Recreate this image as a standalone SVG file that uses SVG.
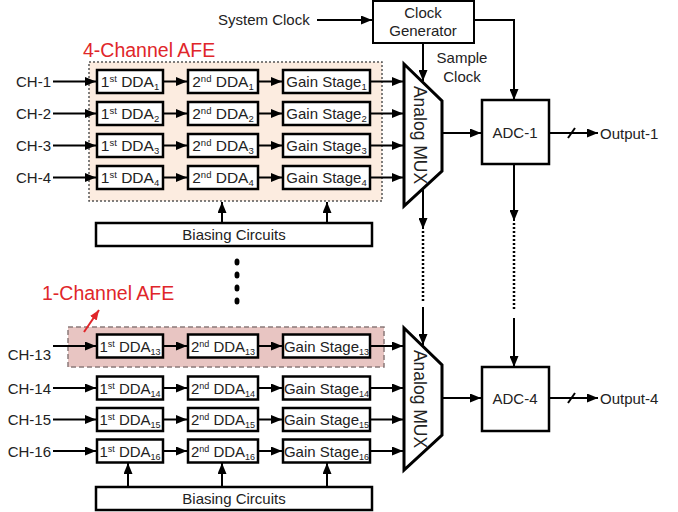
<svg xmlns="http://www.w3.org/2000/svg" width="678" height="512" viewBox="0 0 678 512">
<defs>
<style>
.box{fill:#fff;stroke:#000;stroke-width:2.5}
.bx2{fill:#fff;stroke:#000;stroke-width:2}
text{font-family:"Liberation Sans",Arial,sans-serif;font-size:15px;fill:#222}
.c{text-anchor:middle}
.e{text-anchor:end}
.d{font-size:15.5px}
.red{fill:#e0262a;font-size:19.5px}
.ln{fill:none;stroke:#000;stroke-width:2}
.ar{fill:none;stroke:#000;stroke-width:2;marker-end:url(#ah)}
.dot{fill:none;stroke:#000;stroke-width:2.5;stroke-dasharray:2 2}
.mux{fill:#fff;stroke:#000;stroke-width:3;stroke-linejoin:miter}
</style>
<marker id="ah" markerUnits="userSpaceOnUse" markerWidth="11" markerHeight="9" refX="11" refY="4.5" orient="auto"><path d="M0,0 L11,4.5 L0,9 z" fill="#000"/></marker>
<marker id="ahr" markerUnits="userSpaceOnUse" markerWidth="10" markerHeight="8" refX="10" refY="4" orient="auto"><path d="M0,0 L10,4 L0,8 z" fill="#e0262a"/></marker>
</defs>
<rect width="678" height="512" fill="#fff"/>

<g id="afe4">
<rect x="89" y="62" width="293" height="139" fill="#fcece0" stroke="#555" stroke-width="1.5" stroke-dasharray="2 2"/>
<text class="red" x="83" y="57">4-Channel AFE</text>
</g>
<g id="afe1">
<rect x="68" y="327" width="316" height="40" fill="#e8c5c2" stroke="#8a7a7a" stroke-width="1.5" stroke-dasharray="5 3"/>
<text class="red" x="42" y="300">1-Channel AFE</text>
</g>

<g id="connectors">
<line class="ar" x1="317" y1="20" x2="372" y2="20"/>
<path class="ar" d="M474,20 H514 V100"/>
<line class="ar" x1="423" y1="43" x2="423" y2="81"/>
<line class="ar" x1="53" y1="81.5" x2="96" y2="81.5"/><line class="ar" x1="163" y1="81.5" x2="187" y2="81.5"/><line class="ar" x1="258" y1="81.5" x2="282" y2="81.5"/><line class="ar" x1="370" y1="81.5" x2="403" y2="81.5"/>
<line class="ar" x1="53" y1="113.5" x2="96" y2="113.5"/><line class="ar" x1="163" y1="113.5" x2="187" y2="113.5"/><line class="ar" x1="258" y1="113.5" x2="282" y2="113.5"/><line class="ar" x1="370" y1="113.5" x2="403" y2="113.5"/>
<line class="ar" x1="53" y1="145.5" x2="96" y2="145.5"/><line class="ar" x1="163" y1="145.5" x2="187" y2="145.5"/><line class="ar" x1="258" y1="145.5" x2="282" y2="145.5"/><line class="ar" x1="370" y1="145.5" x2="403" y2="145.5"/>
<line class="ar" x1="53" y1="177.5" x2="96" y2="177.5"/><line class="ar" x1="163" y1="177.5" x2="187" y2="177.5"/><line class="ar" x1="258" y1="177.5" x2="282" y2="177.5"/><line class="ar" x1="370" y1="177.5" x2="403" y2="177.5"/>
<line class="ar" x1="53" y1="346" x2="96" y2="346"/><line class="ar" x1="163" y1="346" x2="187" y2="346"/><line class="ar" x1="258" y1="346" x2="282" y2="346"/><line class="ar" x1="370" y1="346" x2="403" y2="346"/>
<line class="ar" x1="53" y1="388" x2="96" y2="388"/><line class="ar" x1="163" y1="388" x2="187" y2="388"/><line class="ar" x1="258" y1="388" x2="282" y2="388"/><line class="ar" x1="370" y1="388" x2="403" y2="388"/>
<line class="ar" x1="53" y1="419.5" x2="96" y2="419.5"/><line class="ar" x1="163" y1="419.5" x2="187" y2="419.5"/><line class="ar" x1="258" y1="419.5" x2="282" y2="419.5"/><line class="ar" x1="370" y1="419.5" x2="403" y2="419.5"/>
<line class="ar" x1="53" y1="451" x2="96" y2="451"/><line class="ar" x1="163" y1="451" x2="187" y2="451"/><line class="ar" x1="258" y1="451" x2="282" y2="451"/><line class="ar" x1="370" y1="451" x2="403" y2="451"/>
<line class="ar" x1="222" y1="223" x2="222" y2="202"/><line class="ar" x1="327" y1="223" x2="327" y2="202"/>
<line class="ar" x1="128" y1="487" x2="128" y2="463"/><line class="ar" x1="222" y1="487" x2="222" y2="463"/><line class="ar" x1="327" y1="487" x2="327" y2="463"/>
<line class="ar" x1="442" y1="133" x2="481" y2="133"/>
<line class="ar" x1="442" y1="398" x2="481" y2="398"/>
<line class="ar" x1="549" y1="133" x2="598" y2="133"/><line class="ln" x1="568" y1="138" x2="575" y2="128"/>
<line class="ar" x1="549" y1="398" x2="598" y2="398"/><line class="ln" x1="568" y1="403" x2="575" y2="393"/>
<line class="ar" x1="423" y1="188" x2="423" y2="229"/>
<line class="dot" x1="423" y1="231" x2="423" y2="301"/>
<line class="ar" x1="423" y1="307" x2="423" y2="345"/>
<line class="ar" x1="514" y1="164" x2="514" y2="221"/>
<line class="dot" x1="514" y1="223" x2="514" y2="311"/>
<line class="ar" x1="514" y1="318" x2="514" y2="367"/>
<line x1="84" y1="332" x2="99" y2="310" stroke="#e0262a" stroke-width="2" marker-end="url(#ahr)"/>
</g>

<g id="vdots" fill="#000">
<ellipse cx="237" cy="262" rx="2.5" ry="3.5"/><ellipse cx="237" cy="275" rx="2.5" ry="3.5"/><ellipse cx="237" cy="288" rx="2.5" ry="3.5"/><ellipse cx="237" cy="301" rx="2.5" ry="3.5"/>
</g>

<text x="218" y="25">System Clock</text>
<text class="c" x="462" y="63">Sample</text>
<text class="c" x="462" y="82">Clock</text>
<text class="e" x="51" y="87">CH-1</text>
<text class="e" x="51" y="119">CH-2</text>
<text class="e" x="51" y="151">CH-3</text>
<text class="e" x="51" y="183">CH-4</text>
<text class="e" x="51" y="360">CH-13</text>
<text class="e" x="51" y="393.5">CH-14</text>
<text class="e" x="51" y="425">CH-15</text>
<text class="e" x="51" y="456.5">CH-16</text>
<text x="600" y="138.5">Output-1</text>
<text x="600" y="403.5">Output-4</text>

<g id="clockgen"><rect class="bx2" x="373" y="1" width="101" height="42"/><text class="c" x="423" y="18">Clock</text><text class="c" x="423" y="36">Generator</text></g>

<g id="mux1"><polygon class="mux" points="404,64 442,101 442,171 404,206"/><text class="c" transform="translate(420,135) rotate(90)" dy="6" style="font-size:17.5px">Analog MUX</text></g>
<g id="mux2"><polygon class="mux" points="404,328 442,365 442,435 404,470"/><text class="c" transform="translate(420,399) rotate(90)" dy="6" style="font-size:17.5px">Analog MUX</text></g>

<g id="adc1"><rect class="box" x="482" y="100" width="67" height="64"/><text class="c" x="515" y="138">ADC-1</text></g>
<g id="adc4"><rect class="box" x="482" y="367" width="67" height="64"/><text class="c" x="515" y="404">ADC-4</text></g>

<g id="bias1"><rect class="box" x="96" y="223" width="276" height="23"/><text class="c" x="234" y="239.5">Biasing Circuits</text></g>
<g id="bias2"><rect class="box" x="96" y="487" width="276" height="23"/><text class="c" x="234" y="503.5">Biasing Circuits</text></g>

<g id="dda1-1"><rect class="box" x="97" y="70" width="66" height="23"/><text class="c d" x="130" y="87">1<tspan font-size="9.5" dy="-5">st</tspan><tspan dy="5"> DDA</tspan><tspan font-size="9.5" dy="3">1</tspan></text></g>
<g id="dda2-1"><rect class="box" x="188" y="70" width="70" height="23"/><text class="c d" x="223" y="87">2<tspan font-size="9.5" dy="-5">nd</tspan><tspan dy="5"> DDA</tspan><tspan font-size="9.5" dy="3">1</tspan></text></g>
<g id="gain-1"><rect class="box" x="283" y="70" width="87" height="23"/><text class="c" x="326.5" y="87">Gain Stage<tspan font-size="9.5" dy="3">1</tspan></text></g>
<g id="dda1-2"><rect class="box" x="97" y="102" width="66" height="23"/><text class="c d" x="130" y="119">1<tspan font-size="9.5" dy="-5">st</tspan><tspan dy="5"> DDA</tspan><tspan font-size="9.5" dy="3">2</tspan></text></g>
<g id="dda2-2"><rect class="box" x="188" y="102" width="70" height="23"/><text class="c d" x="223" y="119">2<tspan font-size="9.5" dy="-5">nd</tspan><tspan dy="5"> DDA</tspan><tspan font-size="9.5" dy="3">2</tspan></text></g>
<g id="gain-2"><rect class="box" x="283" y="102" width="87" height="23"/><text class="c" x="326.5" y="119">Gain Stage<tspan font-size="9.5" dy="3">2</tspan></text></g>
<g id="dda1-3"><rect class="box" x="97" y="134" width="66" height="23"/><text class="c d" x="130" y="151">1<tspan font-size="9.5" dy="-5">st</tspan><tspan dy="5"> DDA</tspan><tspan font-size="9.5" dy="3">3</tspan></text></g>
<g id="dda2-3"><rect class="box" x="188" y="134" width="70" height="23"/><text class="c d" x="223" y="151">2<tspan font-size="9.5" dy="-5">nd</tspan><tspan dy="5"> DDA</tspan><tspan font-size="9.5" dy="3">3</tspan></text></g>
<g id="gain-3"><rect class="box" x="283" y="134" width="87" height="23"/><text class="c" x="326.5" y="151">Gain Stage<tspan font-size="9.5" dy="3">3</tspan></text></g>
<g id="dda1-4"><rect class="box" x="97" y="166" width="66" height="23"/><text class="c d" x="130" y="183">1<tspan font-size="9.5" dy="-5">st</tspan><tspan dy="5"> DDA</tspan><tspan font-size="9.5" dy="3">4</tspan></text></g>
<g id="dda2-4"><rect class="box" x="188" y="166" width="70" height="23"/><text class="c d" x="223" y="183">2<tspan font-size="9.5" dy="-5">nd</tspan><tspan dy="5"> DDA</tspan><tspan font-size="9.5" dy="3">4</tspan></text></g>
<g id="gain-4"><rect class="box" x="283" y="166" width="87" height="23"/><text class="c" x="326.5" y="183">Gain Stage<tspan font-size="9.5" dy="3">4</tspan></text></g>
<g id="dda1-13"><rect class="box" x="97" y="334.5" width="66" height="23"/><text class="c" x="130" y="351.5">1<tspan font-size="9" dy="-5">st</tspan><tspan dy="5"> DDA</tspan><tspan font-size="9" dy="3">13</tspan></text></g>
<g id="dda2-13"><rect class="box" x="188" y="334.5" width="70" height="23"/><text class="c" x="223" y="351.5">2<tspan font-size="9" dy="-5">nd</tspan><tspan dy="5"> DDA</tspan><tspan font-size="9" dy="3">13</tspan></text></g>
<g id="gain-13"><rect class="box" x="283" y="334.5" width="87" height="23"/><text class="c" x="326.5" y="351.5">Gain Stage<tspan font-size="9" dy="3">13</tspan></text></g>
<g id="dda1-14"><rect class="box" x="97" y="376.5" width="66" height="23"/><text class="c" x="130" y="393.5">1<tspan font-size="9" dy="-5">st</tspan><tspan dy="5"> DDA</tspan><tspan font-size="9" dy="3">14</tspan></text></g>
<g id="dda2-14"><rect class="box" x="188" y="376.5" width="70" height="23"/><text class="c" x="223" y="393.5">2<tspan font-size="9" dy="-5">nd</tspan><tspan dy="5"> DDA</tspan><tspan font-size="9" dy="3">14</tspan></text></g>
<g id="gain-14"><rect class="box" x="283" y="376.5" width="87" height="23"/><text class="c" x="326.5" y="393.5">Gain Stage<tspan font-size="9" dy="3">14</tspan></text></g>
<g id="dda1-15"><rect class="box" x="97" y="408" width="66" height="23"/><text class="c" x="130" y="425">1<tspan font-size="9" dy="-5">st</tspan><tspan dy="5"> DDA</tspan><tspan font-size="9" dy="3">15</tspan></text></g>
<g id="dda2-15"><rect class="box" x="188" y="408" width="70" height="23"/><text class="c" x="223" y="425">2<tspan font-size="9" dy="-5">nd</tspan><tspan dy="5"> DDA</tspan><tspan font-size="9" dy="3">15</tspan></text></g>
<g id="gain-15"><rect class="box" x="283" y="408" width="87" height="23"/><text class="c" x="326.5" y="425">Gain Stage<tspan font-size="9" dy="3">15</tspan></text></g>
<g id="dda1-16"><rect class="box" x="97" y="439.5" width="66" height="23"/><text class="c" x="130" y="456.5">1<tspan font-size="9" dy="-5">st</tspan><tspan dy="5"> DDA</tspan><tspan font-size="9" dy="3">16</tspan></text></g>
<g id="dda2-16"><rect class="box" x="188" y="439.5" width="70" height="23"/><text class="c" x="223" y="456.5">2<tspan font-size="9" dy="-5">nd</tspan><tspan dy="5"> DDA</tspan><tspan font-size="9" dy="3">16</tspan></text></g>
<g id="gain-16"><rect class="box" x="283" y="439.5" width="87" height="23"/><text class="c" x="326.5" y="456.5">Gain Stage<tspan font-size="9" dy="3">16</tspan></text></g>
</svg>
